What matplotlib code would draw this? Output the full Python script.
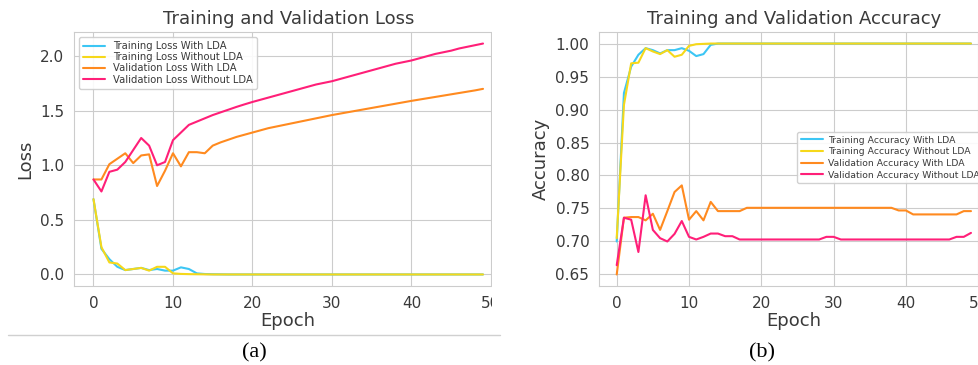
import numpy as np
import matplotlib
matplotlib.use("Agg")
import matplotlib.pyplot as plt
import matplotlib.patches as patches
import seaborn as sns

sns.set_style("whitegrid")
plt.rcParams["font.family"] = ["DejaVu Sans"]
plt.rcParams["text.color"] = "#3a3a3a"
plt.rcParams["axes.labelcolor"] = "#3a3a3a"
plt.rcParams["xtick.color"] = "#3a3a3a"
plt.rcParams["ytick.color"] = "#3a3a3a"

# ---- data ----
epochs = np.arange(50)

train_loss_lda = [0.69, 0.235, 0.14, 0.07, 0.04, 0.05, 0.06, 0.04, 0.05, 0.035,
                  0.035, 0.065, 0.05, 0.01, 0.004, 0.002, 0.001, 0.0, 0.0, 0.0,
                  0.0, 0.0, 0.0, 0.0, 0.0, 0.0, 0.0, 0.0, 0.0, 0.0,
                  0.0, 0.0, 0.0, 0.0, 0.0, 0.0, 0.0, 0.0, 0.0, 0.0,
                  0.0, 0.0, 0.0, 0.0, 0.0, 0.0, 0.0, 0.0, 0.0, 0.0]
train_loss_nolda = [0.69, 0.25, 0.11, 0.10, 0.04, 0.05, 0.06, 0.035, 0.07, 0.07,
                    0.01, 0.005, 0.003, 0.002, 0.001, 0.0, 0.0, 0.0, 0.0, 0.0,
                    0.0, 0.0, 0.0, 0.0, 0.0, 0.0, 0.0, 0.0, 0.0, 0.0,
                    0.0, 0.0, 0.0, 0.0, 0.0, 0.0, 0.0, 0.0, 0.0, 0.0,
                    0.0, 0.0, 0.0, 0.0, 0.0, 0.0, 0.0, 0.0, 0.0, 0.0]
val_loss_lda = [0.87, 0.87, 1.01, 1.06, 1.11, 1.02, 1.09, 1.10, 0.81, 0.95,
                1.11, 0.99, 1.12, 1.12, 1.11, 1.18, 1.21, 1.235, 1.26, 1.28,
                1.30, 1.32, 1.34, 1.355, 1.37, 1.385, 1.40, 1.415, 1.43, 1.445,
                1.46, 1.473, 1.486, 1.499, 1.512, 1.525, 1.538, 1.551, 1.564, 1.577,
                1.59, 1.602, 1.614, 1.626, 1.638, 1.65, 1.662, 1.674, 1.686, 1.70]
val_loss_nolda = [0.87, 0.76, 0.94, 0.96, 1.03, 1.14, 1.25, 1.18, 1.00, 1.03,
                  1.23, 1.30, 1.37, 1.40, 1.43, 1.46, 1.485, 1.51, 1.535, 1.558,
                  1.58, 1.60, 1.62, 1.64, 1.66, 1.68, 1.70, 1.72, 1.74, 1.755,
                  1.77, 1.79, 1.81, 1.83, 1.85, 1.87, 1.89, 1.91, 1.93, 1.945,
                  1.96, 1.98, 2.00, 2.02, 2.035, 2.05, 2.07, 2.085, 2.10, 2.115]

train_acc_lda = [0.70, 0.925, 0.965, 0.983, 0.993, 0.990, 0.985, 0.990, 0.990, 0.993,
                 0.989, 0.981, 0.984, 0.998, 1.0, 1.0, 1.0, 1.0, 1.0, 1.0,
                 1.0, 1.0, 1.0, 1.0, 1.0, 1.0, 1.0, 1.0, 1.0, 1.0,
                 1.0, 1.0, 1.0, 1.0, 1.0, 1.0, 1.0, 1.0, 1.0, 1.0,
                 1.0, 1.0, 1.0, 1.0, 1.0, 1.0, 1.0, 1.0, 1.0, 1.0]
train_acc_nolda = [0.705, 0.907, 0.970, 0.971, 0.993, 0.988, 0.984, 0.990, 0.980, 0.983,
                   0.9965, 0.999, 0.9995, 1.0, 1.0, 1.0, 1.0, 1.0, 1.0, 1.0,
                   1.0, 1.0, 1.0, 1.0, 1.0, 1.0, 1.0, 1.0, 1.0, 1.0,
                   1.0, 1.0, 1.0, 1.0, 1.0, 1.0, 1.0, 1.0, 1.0, 1.0,
                   1.0, 1.0, 1.0, 1.0, 1.0, 1.0, 1.0, 1.0, 1.0, 1.0]
val_acc_lda = [0.65, 0.736, 0.737, 0.737, 0.732, 0.742, 0.7175, 0.746, 0.775, 0.785,
               0.733, 0.746, 0.732, 0.760, 0.746, 0.746, 0.746, 0.746, 0.751, 0.751,
               0.751, 0.751, 0.751, 0.751, 0.751, 0.751, 0.751, 0.751, 0.751, 0.751,
               0.751, 0.751, 0.751, 0.751, 0.751, 0.751, 0.751, 0.751, 0.751, 0.747,
               0.747, 0.741, 0.741, 0.741, 0.741, 0.741, 0.741, 0.741, 0.746, 0.746]
val_acc_nolda = [0.664, 0.736, 0.733, 0.684, 0.770, 0.7175, 0.705, 0.700, 0.7115, 0.731,
                 0.707, 0.703, 0.707, 0.712, 0.712, 0.708, 0.708, 0.703, 0.703, 0.703,
                 0.703, 0.703, 0.703, 0.703, 0.703, 0.703, 0.703, 0.703, 0.703, 0.707,
                 0.707, 0.703, 0.703, 0.703, 0.703, 0.703, 0.703, 0.703, 0.703, 0.703,
                 0.703, 0.703, 0.703, 0.703, 0.703, 0.703, 0.703, 0.707, 0.707, 0.713]

loss_labels = ["Training Loss With LDA", "Training Loss Without LDA",
               "Validation Loss With LDA", "Validation Loss Without LDA"]
acc_labels = ["Training Accuracy With LDA", "Training Accuracy Without LDA",
              "Validation Accuracy With LDA", "Validation Accuracy Without LDA"]
colors = ["#3cc6f4", "#f6d81a", "#ff8a1f", "#ff1f78"]

W, H = 979, 365
fig = plt.figure(figsize=(W / 100, H / 100), dpi=100)


def px_axes(left, top, right, bottom):
    """Create an axes from pixel edges (measured from the top-left)."""
    return fig.add_axes([left / W, 1 - bottom / H, (right - left) / W, (bottom - top) / H])


def style_panel(ax, title, ylabel):
    ax.set_title(title, fontsize=13, color="#3a3a3a")
    ax.set_xlabel("Epoch", fontsize=13, labelpad=1)
    ax.set_ylabel(ylabel, fontsize=13)
    ax.tick_params(labelsize=11)
    ax.set_xlim(-2.45, 51.45)


# (a) loss
ax1 = px_axes(74, 32, 502.5, 286)
for vals, lab, c in zip([train_loss_lda, train_loss_nolda, val_loss_lda, val_loss_nolda],
                        loss_labels, colors):
    ax1.plot(epochs, vals, color=c, lw=1.5, label=lab)
style_panel(ax1, "Training and Validation Loss", "Loss")
ax1.set_xticks([0, 10, 20, 30, 40, 50])
ax1.set_yticks([0.0, 0.5, 1.0, 1.5, 2.0])
ax1.legend(loc="upper left", bbox_to_anchor=(79 / W, 1 - 37 / H),
           bbox_transform=fig.transFigure, borderaxespad=0, fontsize=7.2,
           handlelength=2.2, labelspacing=0.12, framealpha=0.9)

# white mask to mimic the cropped right edge of panel (a)
mask = patches.Rectangle((492 / W, 1 - 330 / H), 40 / W, 330 / H,
                         transform=fig.transFigure, facecolor="white",
                         edgecolor="none", zorder=1)
fig.patches.append(mask)

# (b) accuracy
ax2 = px_axes(599, 32, 988.7, 286)
ax2.set_zorder(2)
for vals, lab, c in zip([train_acc_lda, train_acc_nolda, val_acc_lda, val_acc_nolda],
                        acc_labels, colors):
    ax2.plot(epochs, vals, color=c, lw=1.5, label=lab)
style_panel(ax2, "Training and Validation Accuracy", "Accuracy")
ax2.set_xticks([0, 10, 20, 30, 40, 50])
ax2.set_yticks([0.65, 0.70, 0.75, 0.80, 0.85, 0.90, 0.95, 1.00])
ax2.set_yticklabels(["0.65", "0.70", "0.75", "0.80", "0.85", "0.90", "0.95", "1.00"])
ax2.legend(loc="upper left", bbox_to_anchor=(797 / W, 1 - 132 / H),
           bbox_transform=fig.transFigure, borderaxespad=0, fontsize=6.7,
           handlelength=2.4, handletextpad=0.5, borderpad=0.4,
           labelspacing=0.28, framealpha=0.9)

# separator line and captions
fig.add_artist(plt.Line2D([8 / W, 500 / W], [1 - 335 / H, 1 - 335 / H],
                          transform=fig.transFigure, color="#d0d0d0", lw=1))
fig.text(254 / W, 1 - 353 / H, "(a)", ha="center", va="center",
         family="Liberation Serif", fontsize=16, color="black")
fig.text(762 / W, 1 - 353 / H, "(b)", ha="center", va="center",
         family="Liberation Serif", fontsize=16, color="black")

fig.savefig("out.png", dpi=100)
